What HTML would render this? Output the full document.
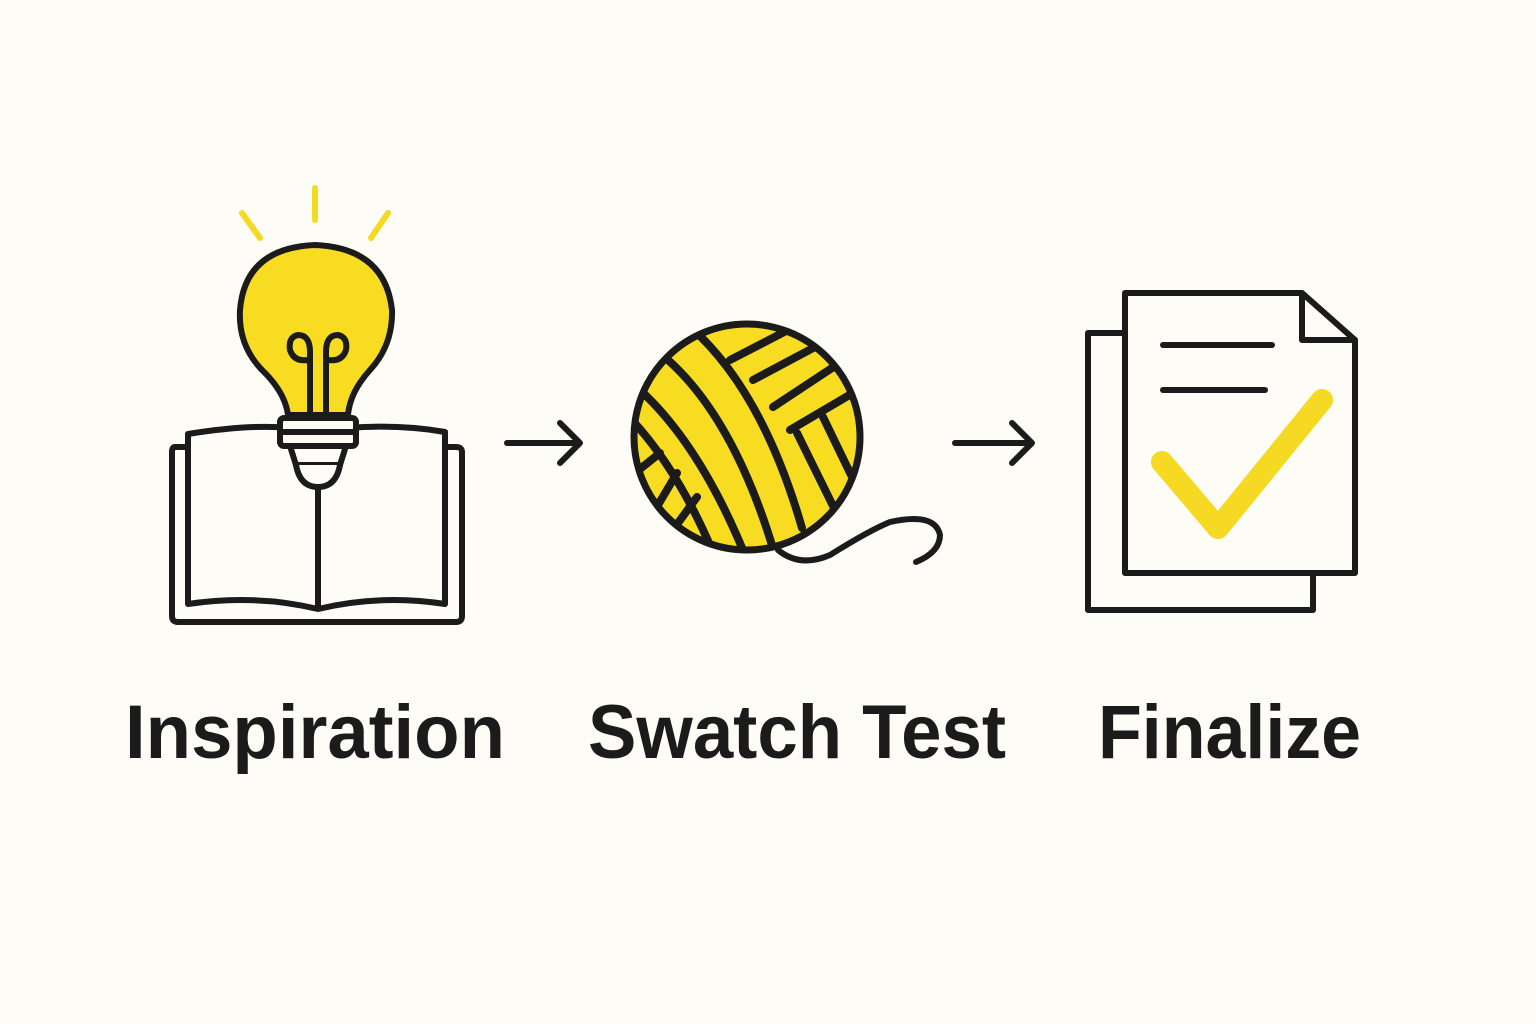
<!DOCTYPE html>
<html><head><meta charset="utf-8"><style>
html,body{margin:0;padding:0;background:#fdfcf6;}
svg{display:block}
text{font-family:"Liberation Sans",sans-serif;font-weight:bold;fill:#1b1b1b}
</style></head><body>
<svg width="1536" height="1024" viewBox="0 0 1536 1024" xmlns="http://www.w3.org/2000/svg">
<rect width="1536" height="1024" fill="#fdfcf6"/>
<g fill="none" stroke="#1b1b1b" stroke-width="6" stroke-linecap="round" stroke-linejoin="round">
<g stroke="#f5d922" stroke-width="6">
<line x1="315" y1="188" x2="315" y2="220"/>
<line x1="242" y1="213" x2="260" y2="238"/>
<line x1="388" y1="213" x2="371" y2="238"/>
</g>
<!-- book -->
<path d="M185,447 L175,447 Q172,447 172,452 L172,616 Q172,622 178,622 L456,622 Q462,622 462,616 L462,452 Q462,447 456,447 L448,447"/>
<path d="M290,428 Q250,424 188,434 L188,604 Q255,594 318,609 Q380,594 445,604 L445,432 Q400,424 346,428"/>
<line x1="318" y1="485" x2="318" y2="607"/>
<!-- bulb -->
<path d="M288,415 Q285,392 262,370 Q238,345 240,310 Q245,248 315,245 Q385,248 392,310 Q393,345 370,370 Q350,392 348,415 Z" fill="#f7dc22"/>
<path d="M310,415 L310,352 Q310,335 298,335 Q288,337 290,350 Q294,362 308,360 M326,415 L326,352 Q326,335 338,335 Q348,337 346,350 Q342,362 328,360"/>
<rect x="280" y="418" width="76" height="28" rx="4" fill="#fdfcf6"/>
<line x1="283" y1="432" x2="353" y2="432"/>
<path d="M290,446 L346,446 L340,465 L296,465 Z" fill="#fdfcf6"/>
<path d="M296,465 Q300,487 318,487 Q336,487 340,465" fill="#fdfcf6"/>
<!-- arrows -->
<path d="M507,443 L580,443 M560,423 L580,443 L560,463"/>
<path d="M955,443 L1032,443 M1012,423 L1032,443 L1012,463"/>
<!-- yarn -->
<defs><clipPath id="c"><circle cx="747" cy="437" r="113"/></clipPath></defs>
<circle cx="747" cy="437" r="113" fill="#f7dc22" stroke="none"/>
<g clip-path="url(#c)" stroke-width="8">
<path d="M700,336 Q765,400 802,528"/>
<path d="M668,360 Q735,420 775,555"/>
<path d="M640,390 Q700,445 745,555"/>
<path d="M632,420 Q678,470 712,550"/>
<line x1="730" y1="360" x2="790" y2="329"/>
<line x1="753" y1="380" x2="815" y2="347"/>
<line x1="773" y1="407" x2="838" y2="364"/>
<line x1="790" y1="430" x2="858" y2="390"/>
<line x1="823" y1="417" x2="852" y2="477"/>
<line x1="797" y1="433" x2="835" y2="510"/>
<line x1="640" y1="469" x2="660" y2="453"/>
<line x1="658" y1="505" x2="677" y2="473"/>
<line x1="678" y1="523" x2="697" y2="497"/>
</g>
<circle cx="747" cy="437" r="113" stroke-width="7"/>
<path d="M778,550 Q800,568 830,555 Q870,530 890,522 Q935,512 940,535 Q940,552 916,562"/>
<!-- docs -->
<path d="M1125,333 L1088,333 L1088,610 L1313,610 L1313,573"/>
<path d="M1125,293 L1302,293 L1355,340 L1355,573 L1125,573 Z"/>
<path d="M1302,293 L1302,340 L1355,340"/>
<line x1="1163" y1="345" x2="1272" y2="345"/>
<line x1="1163" y1="390" x2="1265" y2="390"/>
<path d="M1162,462 L1218,528 L1322,400" stroke="#f5d922" stroke-width="22"/>
</g>
<text x="125" y="758" font-size="76" textLength="380" lengthAdjust="spacingAndGlyphs">Inspiration</text>
<text x="588" y="758" font-size="76" textLength="418" lengthAdjust="spacingAndGlyphs">Swatch Test</text>
<text x="1098" y="758" font-size="76" textLength="263" lengthAdjust="spacingAndGlyphs">Finalize</text>
</svg>
</body></html>
